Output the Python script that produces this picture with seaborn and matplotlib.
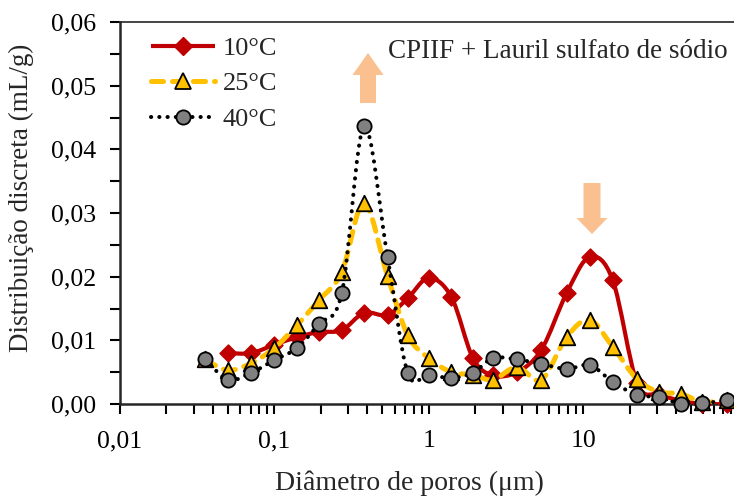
import numpy as np
import matplotlib
matplotlib.use("Agg")
import matplotlib.pyplot as plt
import seaborn as sns
import pandas as pd
from matplotlib.path import Path
from matplotlib.patches import PathPatch, FancyArrow
from matplotlib.lines import Line2D
from matplotlib.ticker import FuncFormatter, MultipleLocator, LogLocator, FixedLocator
from matplotlib.transforms import Affine2D

# pore diameters (um), common bins
diam = [0.0355, 0.05, 0.0705, 0.1, 0.14, 0.194, 0.273, 0.38, 0.54, 0.73, 1.0, 1.4,
        1.93, 2.6, 3.72, 5.35, 7.8, 11.0, 15.5, 22.3, 31, 43, 59, 85]

# 10 C starts at the second bin
dist_10 = [0.0080, 0.0080, 0.0093, 0.0105, 0.0113, 0.0116, 0.0143, 0.0140, 0.0166,
           0.0198, 0.0168, 0.0072, 0.0045, 0.0050, 0.0085, 0.0174, 0.0231, 0.0195,
           0.0033, 0.0015, 0.0005, 0.0000, 0.0000]
dist_25 = [0.0070, 0.0053, 0.0064, 0.0088, 0.0124, 0.0163, 0.0207, 0.0316, 0.0201,
           0.0108, 0.0072, 0.0050, 0.0046, 0.0038, 0.0058, 0.0038, 0.0105, 0.0132,
           0.0090, 0.0039, 0.0019, 0.0016, 0.0003, 0.0006]
dist_40 = [0.0071, 0.0038, 0.0049, 0.0069, 0.0088, 0.0126, 0.0174, 0.0436, 0.0231,
           0.0049, 0.0046, 0.0041, 0.0049, 0.0072, 0.0070, 0.0063, 0.0055, 0.0061,
           0.0035, 0.0014, 0.0011, 0.0000, 0.0001, 0.0006]

labels = ["10°C", "25°C", "40°C"]

sns.set_style("ticks")
plt.rcParams["font.family"] = ["Liberation Serif", "DejaVu Serif"]


def smooth_path(x, y):
    # excel-like smoothed line: catmull-rom turned into cubic bezier, in log-x space
    lx = np.log10(np.asarray(x, float))
    y = np.asarray(y, float)
    n = len(lx)
    verts = [(lx[0], y[0])]
    codes = [Path.MOVETO]
    for i in range(n - 1):
        p0 = (lx[max(i - 1, 0)], y[max(i - 1, 0)])
        p1 = (lx[i], y[i])
        p2 = (lx[i + 1], y[i + 1])
        p3 = (lx[min(i + 2, n - 1)], y[min(i + 2, n - 1)])
        c1 = (p1[0] + (p2[0] - p0[0]) / 6, p1[1] + (p2[1] - p0[1]) / 6)
        c2 = (p2[0] - (p3[0] - p1[0]) / 6, p2[1] - (p3[1] - p1[1]) / 6)
        verts += [c1, c2, p2]
        codes += [Path.CURVE4] * 3
    verts = [(10 ** vx, vy) for vx, vy in verts]
    return Path(verts, codes)


fig = plt.figure(figsize=(7.34, 4.96), dpi=100)
ax = fig.add_axes([0.1635, 0.1855, 0.8415, 0.77])
ax.set_xscale("log")
ax.set_xlim(0.01, 100)
ax.set_ylim(0, 0.06)

series = [
    (diam[1:], dist_10, dict(color="#C00000", lw=3.0, ls="-"),
     dict(marker="D", s=75, color="#C00000", edgecolor="#C00000", linewidth=1)),
    (diam, dist_25, dict(color="#FFC000", lw=3.6, ls=(0, (2.4, 1.8))),
     dict(marker="^", s=125, color="#FFC000", edgecolor="black", linewidth=1.3)),
    (diam, dist_40, dict(color="black", lw=2.9, ls=(0, (0.05, 2.0))),
     dict(marker="o", s=105, color="#808080", edgecolor="black", linewidth=1.3)),
]

z = 3
for x, y, lstyle, mstyle in series:
    patch = PathPatch(smooth_path(x, y), fill=False, edgecolor=lstyle["color"],
                      linewidth=lstyle["lw"], linestyle=lstyle["ls"],
                      capstyle="round", joinstyle="round", zorder=z)
    ax.add_patch(patch)
    df = pd.DataFrame({"d": x, "v": y})
    sns.scatterplot(data=df, x="d", y="v", ax=ax, zorder=z + 1, clip_on=False, **mstyle)
    z += 2

# axes styling
for side in ["left", "bottom"]:
    ax.spines[side].set_linewidth(1.8)
ax.spines["top"].set_linewidth(1.2)
ax.spines["right"].set_visible(False)

ax.xaxis.set_major_locator(FixedLocator([0.01, 0.1, 1, 10]))
ax.xaxis.set_minor_locator(LogLocator(base=10, subs=np.arange(2, 10)))
ax.xaxis.set_major_formatter(FuncFormatter(lambda v, p: f"{v:g}".replace(".", ",")))
ax.yaxis.set_major_locator(MultipleLocator(0.01))
ax.yaxis.set_minor_locator(MultipleLocator(0.005))
ax.yaxis.set_major_formatter(FuncFormatter(lambda v, p: f"{v:.2f}".replace(".", ",")))
ax.tick_params(axis="both", which="both", direction="out", length=7, width=1.5,
               labelsize=18.5, colors="black")
ax.tick_params(axis="x", which="both", pad=12)
ax.tick_params(axis="y", which="both", pad=10)

ax.set_xlabel("Diâmetro de poros (μm)", fontsize=20)
ax.set_ylabel("Distribuição discreta (mL/g)", fontsize=19.5)
ax.xaxis.set_label_coords(0.469, -0.207)
ax.yaxis.set_label_coords(-0.159, 0.54)
ax.xaxis.label.set_va("center")
ax.yaxis.label.set_va("center")

# legend
handles = []
for x, y, lstyle, mstyle in series:
    h = Line2D([], [], color=lstyle["color"], lw=lstyle["lw"], ls=lstyle["ls"],
               dash_capstyle="round", solid_capstyle="butt",
               marker=mstyle["marker"], markersize=np.sqrt(mstyle["s"]),
               markerfacecolor=mstyle["color"], markeredgecolor=mstyle["edgecolor"],
               markeredgewidth=mstyle["linewidth"])
    handles.append(h)
ax.legend(handles, labels, loc="upper left", bbox_to_anchor=(0.027, 1.0),
          frameon=False, fontsize=19, handlelength=2.4, handletextpad=0.3,
          labelspacing=0.45, borderaxespad=0.15)

# annotation text and arrows (pixel positions from the top-left corner)
px = Affine2D().scale(1 / 734, 1 / 496) + fig.transFigure
fig.text(388 / 734, 1 - 52 / 496, "CPIIF + Lauril sulfato de sódio", fontsize=19.5,
         va="center", ha="left")
arrow_color = "#FAC090"
fig.patches.append(FancyArrow(368, 496 - 103, 0, 50, width=16, head_width=31,
                              head_length=22, length_includes_head=True,
                              color=arrow_color, lw=0, transform=px, figure=fig))
fig.patches.append(FancyArrow(592, 496 - 183, 0, -51, width=17, head_width=31,
                              head_length=16, length_includes_head=True,
                              color=arrow_color, lw=0, transform=px, figure=fig))

fig.savefig("out.png", dpi=100, facecolor="white")
